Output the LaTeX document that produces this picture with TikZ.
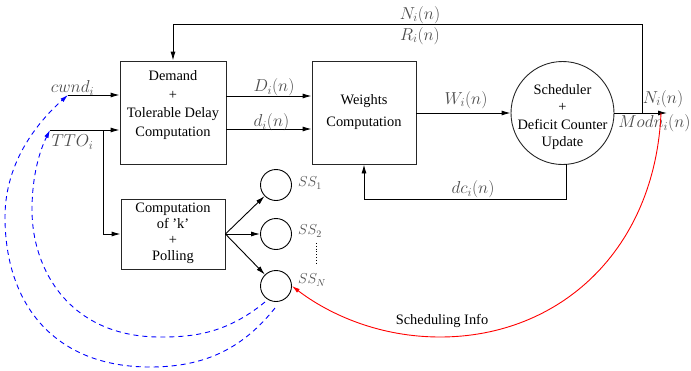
\documentclass[tikz,border=0pt]{standalone}
\usepackage{fontspec}
\setmainfont{Liberation Serif}
\usetikzlibrary{arrows.meta,calc}
\tikzset{
 box/.style={draw=black!85, line width=0.9pt, inner sep=0pt},
 txt/.style={align=center, font=\fontsize{14.4}{18.5}\selectfont, inner sep=0pt},
 ml/.style={font=\fontsize{17.28}{20}\selectfont, text=black!70, inner sep=0pt},
 sl/.style={font=\fontsize{14.4}{17}\selectfont, text=black!70, inner sep=0pt},
 arr/.style={line width=0.9pt, -{Latex[length=9pt,width=5pt]}},
 ssc/.style={draw, circle, minimum size=31pt, inner sep=0pt, line width=0.9pt},
 bluedash/.style={blue, line width=0.9pt, dash pattern=on 5pt off 4pt, -{Latex[length=8pt,width=4.5pt]}},
 redarr/.style={red, line width=0.9pt, -{Latex[length=8pt,width=4.5pt]}},
}
\begin{document}
\begin{tikzpicture}[x=1pt,y=-1pt]
\useasboundingbox (0,0) rectangle (691,370);
% boxes
\node[box, minimum width=106pt, minimum height=103pt] (dem) at (173,112.5) {};
\node[txt] (demt) at (173,105) {Demand\\+\\Tolerable Delay\\Computation};
\node[box, minimum width=104pt, minimum height=103pt] (wts) at (364,112.5) {};
\node[txt, font=\fontsize{14.4}{22}\selectfont] (wtst) at (364,112) {Weights\\Computation};
\node[box, circle, minimum size=103pt] (sch) at (562.5,113) {};
\node[txt, font=\fontsize{14.4}{17.5}\selectfont] (scht) at (562.5,117) {Scheduler\\+\\Deficit Counter\\Update};
\node[box, minimum width=104pt, minimum height=70pt] (kb) at (173,234) {};
\node[txt, font=\fontsize{14.4}{16}\selectfont] (kbt) at (173,233) {Computation\\of 'k'\\+\\Polling};
% subscriber circles
\node[ssc] (ss1) at (276,185) {};
\node[ssc] (ss2) at (276,234) {};
\node[ssc] (ssn) at (276,286) {};
\node[sl, anchor=west] (l1) at (298,183) {$SS_1$};
\node[sl, anchor=west] (l2) at (298,231) {$SS_2$};
\node[sl, anchor=west] (ln) at (298,280) {$SS_N$};
\coordinate (dt1) at (316,243);
\coordinate (dt2) at (316,263);
\draw[dotted, line width=0.8pt] (dt1) -- (dt2);
% coordinates
\coordinate (cw) at (68,95);
\coordinate (tt) at (50,130);
\coordinate (br) at (103,130);
\coordinate (Dy) at (0,96);
\coordinate (dy) at (0,129);
\coordinate (fb) at (642,113);
\coordinate (outend) at (667,113);
\coordinate (dcx) at (364,199);
\coordinate (dcs) at (566,164);
% inputs
\draw[arr] (cw) -- (cw -| dem.west);
\draw[arr] (tt) -- (tt -| dem.west);
\draw[arr] (br) |- (kb.west);
% demand -> weights
\draw[arr] (Dy -| dem.east) -- (Dy -| wts.west);
\draw[arr] (dy -| dem.east) -- (dy -| wts.west);
% weights -> scheduler
\draw[arr] (wts.east |- sch.west) -- (sch.west);
% output
\draw[arr] (sch.east) -- (outend);
% top feedback
\draw[arr] (fb) |- ($(dem.north)+(0,-36)$) -- (dem.north);
% dc feedback
\draw[arr] (dcs) |- (dcx) -- (dcx |- wts.south);
% polling to SS
\draw[arr] (kb.east) -- (ss1);
\draw[arr] (kb.east) -- (ss2.west);
\draw[arr] (kb.east) -- (ssn);
% labels
\node[ml] (lcw) at (72.5,88) {$cwnd_i$};
\node[ml] (ltt) at (72.5,142) {$TTO_i$};
\node[ml] (lD) at (274,87.5) {$D_i(n)$};
\node[ml] (ld) at (271.5,122.5) {$d_i(n)$};
\node[ml] (lW) at (466,100) {$W_i(n)$};
\node[ml] (lN) at (420,15) {$N_i(n)$};
\node[ml] (lR) at (420,36) {$R_i(n)$};
\node[ml] (lN2) at (663,99) {$N_i(n)$};
\node[ml] (lM) at (654.5,123.5) {$Modn_i(n)$};
\node[ml] (ldc) at (473,189.5) {$dc_i(n)$};
\node[txt] (si) at (442,321) {Scheduling Info};
% red curve
\coordinate (rs) at (661,113);
\coordinate (rb) at (440,337);
\draw[redarr] (rs) .. controls (655,250) and (560,337) .. (rb) .. controls (380,337) and (330,315) .. (ssn.east);
% blue dashed curves
\coordinate (bi) at (265,302);
\coordinate (bo) at (275,308);
\draw[bluedash] (bi) .. controls (225,335) and (190,337) .. (160,337) .. controls (70,337) and (32,270) .. (32,210) .. controls (32,175) and (40,150) .. (tt);
\draw[bluedash] (bo) .. controls (240,352) and (200,367) .. (150,367) .. controls (55,367) and (5,305) .. (5,217) .. controls (5,160) and (40,120) .. (cw);
\end{tikzpicture}
\end{document}
